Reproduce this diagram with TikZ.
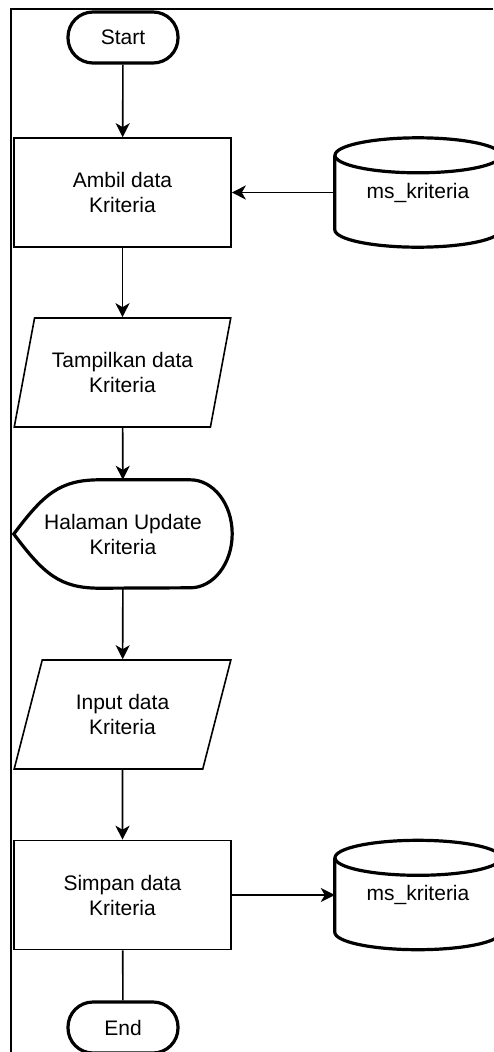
\documentclass[tikz,border=0pt]{standalone}
\usepackage{fontspec}
\setmainfont{Liberation Sans}
\usetikzlibrary{shapes.geometric,arrows.meta,calc,positioning}

\begin{document}
\begin{tikzpicture}[x=1pt, y=-1pt,
    every node/.style={font=\fontsize{21}{25}\selectfont, align=center, inner sep=0pt},
    terminal/.style={draw, line width=3.2pt, rounded corners=25pt, minimum width=110pt, minimum height=51pt},
    process/.style={draw, line width=1.6pt, minimum width=217pt, minimum height=109pt},
    iobox/.style={draw, line width=1.6pt, trapezium, trapezium left angle=68, trapezium right angle=112,
      trapezium stretches=true, minimum width=217pt, minimum height=109pt},
    holder/.style={minimum width=166pt, minimum height=109pt},
    screen/.style={minimum width=218pt, minimum height=108pt},
    flow/.style={line width=1.6pt, -{Stealth[length=14pt, width=14pt, inset=4pt]}}]

    \useasboundingbox (0,0) rectangle (493,1052);

    % dbshape[name]
    \def\dbshape[#1]{
      \draw[line width=3.2pt] ($(#1.north)+(0,17.5)$) ellipse (83 and 17.5);
      \draw[line width=3.2pt] ($(#1.north west)+(0,17.5)$) -- ($(#1.south west)+(0,-17.5)$)
        arc (180:0:83 and 17.5) -- ($(#1.north east)+(0,17.5)$);
    }

    % screenshape[name]
    \def\screenshape[#1]{
      \draw[line width=3.2pt] (#1.west) .. controls +(30,-40) and +(-40,0) .. ($(#1.north west)+(86,0)$)
        -- ($(#1.north east)+(-42,0)$) arc (-90:90:42 and 54)
        -- ($(#1.south west)+(86,0)$) .. controls +(-40,0) and +(30,40) .. (#1.west) -- cycle;
    }

    % Frame
    \draw[line width=2.6pt] (11,1052) -- (11,9) -- (493,9);

    % Nodes
    \node[terminal] (start) at (123,37.5) {Start};
    \node[process] (ambil) at (122.5,192.5) {Ambil data\\Kriteria};
    \node[holder] (db1) at (418,192.5) {ms\_kriteria};
    \node[iobox] (tampil) at (122.5,372.5) {Tampilkan data\\Kriteria};
    \node[screen] (halaman) at (123,534) {Halaman Update\\Kriteria};
    \node[iobox] (input) at (122.5,714.5) {Input data\\Kriteria};
    \node[process] (simpan) at (122.5,895) {Simpan data\\Kriteria};
    \node[holder] (db2) at (418,895) {ms\_kriteria};
    \node[terminal] (end) at (123,1027.5) {End};

    \dbshape[db1]
    \dbshape[db2]
    \screenshape[halaman]

    % Arrows
    \draw[flow] (start) -- (ambil);
    \draw[flow] (db1.west) -- (ambil.east);
    \draw[flow] (ambil) -- (tampil);
    \draw[flow] (tampil) -- (halaman);
    \draw[flow] (halaman) -- (input);
    \draw[flow] (input) -- (simpan);
    \draw[flow] (simpan.east) -- (db2.west);
    \draw[line width=1.6pt] (simpan) -- (end);

\end{tikzpicture}
\end{document}
